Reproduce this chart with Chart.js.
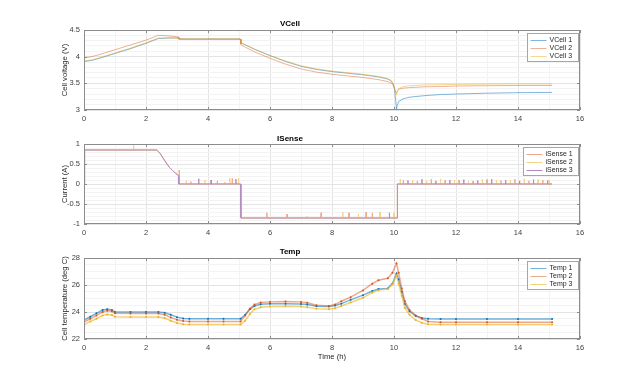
<!DOCTYPE html>
<html>
<head>
<meta charset="utf-8">
<script src="https://cdn.jsdelivr.net/npm/chart.js@4.4.0/dist/chart.umd.min.js"></script>
<style>
    html, body { margin: 0; padding: 0; background: #fff; }
    #wrap { position: relative; width: 640px; height: 381px; }
    #wrap canvas { position: absolute; left: 0; }
</style>
</head>
<body>
<div id="wrap">
    <canvas id="vcellChart" width="640" height="125" style="top:0"></canvas>
    <canvas id="isenseChart" width="640" height="120" style="top:125px"></canvas>
    <canvas id="tempChart" width="640" height="136" style="top:245px"></canvas>
</div>
<script>
// ---- VCell (V) ----
var vTime = [0, 0.25, 0.5, 1.0, 1.5, 2.0, 2.35, 2.4, 2.7, 3.04, 3.06, 4.0, 5.04, 5.06, 5.1, 5.5, 6.0, 6.5, 7.0, 7.5,
    8.0, 8.5, 9.0, 9.5, 9.8, 9.9, 9.97, 10.02, 10.06, 10.08, 10.1, 10.15, 10.3, 10.5, 11.0, 11.5, 12, 13, 14, 15.1];
var vCell1 = [3.91, 3.93, 3.97, 4.06, 4.15, 4.25, 4.33, 4.34, 4.35, 4.35, 4.33, 4.33, 4.33, 4.27, 4.25, 4.14, 4.02, 3.91, 3.82, 3.76,
    3.72, 3.69, 3.66, 3.62, 3.58, 3.55, 3.49, 3.38, 3.15, 3.0, 3.08, 3.16, 3.21, 3.24, 3.27, 3.29, 3.3, 3.315, 3.325, 3.33];
var vCell2 = [3.98, 4.0, 4.04, 4.13, 4.22, 4.31, 4.39, 4.4, 4.39, 4.37, 4.33, 4.33, 4.33, 4.23, 4.21, 4.09, 3.97, 3.86, 3.77, 3.71,
    3.67, 3.64, 3.61, 3.57, 3.53, 3.51, 3.47, 3.4, 3.33, 3.32, 3.35, 3.39, 3.41, 3.42, 3.435, 3.44, 3.45, 3.455, 3.46, 3.46];
var vCell3 = [3.92, 3.94, 3.98, 4.07, 4.16, 4.26, 4.34, 4.35, 4.35, 4.35, 4.33, 4.33, 4.33, 4.27, 4.25, 4.14, 4.02, 3.92, 3.83, 3.77,
    3.73, 3.7, 3.67, 3.63, 3.59, 3.56, 3.5, 3.4, 3.3, 3.28, 3.33, 3.4, 3.44, 3.455, 3.47, 3.475, 3.48, 3.485, 3.49, 3.49];

// ---- ISense (A): shared base profile + per-series spikes ----
var iTime = [0, 0.02, 2.35, 2.45, 2.55, 2.65, 2.75, 2.85, 2.95, 3.05, 3.06, 5.05, 5.06, 10.1, 10.11, 15.1];
var iBase = [0, 0.85, 0.85, 0.77, 0.65, 0.53, 0.42, 0.34, 0.27, 0.21, 0, 0, -0.85, -0.85, 0, 0];
var iSpike1Time = [3.07, 3.45, 4.3, 4.78, 5.9, 6.55, 7.65, 8.55, 9.1, 9.3, 10.3, 10.75, 11.2, 11.65, 12.1, 12.55, 13.0, 13.45, 13.9, 14.35, 14.8];
var iSpike1Value = [0.35, 0.06, 0.08, 0.14, -0.72, -0.75, -0.72, -0.72, -0.7, -0.72, 0.1, 0.08, 0.12, 0.09, 0.1, 0.07, 0.11, 0.09, 0.12, 0.08, 0.1];
var iSpike2Time = [1.6, 3.3, 3.9, 4.55, 4.7, 4.98, 7.2, 8.35, 8.85, 9.55, 10.0, 10.2, 10.6, 11.05, 11.5, 11.95, 12.4, 12.85, 13.3, 13.75, 14.2, 14.65, 15.0];
var iSpike2Value = [0.97, 0.08, 0.1, 0.05, 0.15, 0.15, -0.8, -0.7, -0.75, -0.7, -0.72, 0.12, 0.1, 0.09, 0.13, 0.1, 0.08, 0.12, 0.1, 0.09, 0.13, 0.11, 0.1];
var iSpike3Time = [3.7, 4.1, 4.9, 9.85, 10.45, 10.9, 11.35, 11.8, 12.25, 12.7, 13.15, 13.6, 14.05, 14.5, 14.95];
var iSpike3Value = [0.13, 0.1, 0.12, -0.72, 0.09, 0.12, 0.08, 0.1, 0.11, 0.09, 0.12, 0.1, 0.08, 0.11, 0.09];

// ---- Temp (deg C) ----
var tTime = [0, 0.2, 0.4, 0.6, 0.75, 0.9, 1.0, 1.5, 2.0, 2.4, 2.6, 2.8, 3.0, 3.2, 3.4, 4.0, 4.5, 5.05, 5.2, 5.35,
    5.5, 5.7, 6.0, 6.5, 7.0, 7.2, 7.5, 7.9, 8.1, 8.3, 8.6, 9.0, 9.3, 9.5, 9.8, 9.95, 10.08, 10.15, 10.25, 10.35,
    10.5, 10.7, 10.9, 11.1, 11.5, 12, 13, 14, 15.1];
var temp1 = [23.4, 23.65, 23.9, 24.15, 24.2, 24.15, 24.0, 24.0, 24.0, 24.0, 23.95, 23.8, 23.62, 23.52, 23.5, 23.5, 23.5, 23.5, 23.8, 24.2,
    24.45, 24.58, 24.62, 24.62, 24.6, 24.55, 24.42, 24.4, 24.48, 24.62, 24.9, 25.25, 25.55, 25.7, 25.75, 26.1, 26.85, 26.4, 25.5, 24.6,
    24.05, 23.7, 23.55, 23.5, 23.48, 23.48, 23.48, 23.48, 23.48];
var temp2 = [23.25, 23.5, 23.75, 24.0, 24.1, 24.05, 23.9, 23.88, 23.88, 23.88, 23.8, 23.6, 23.42, 23.33, 23.3, 23.3, 23.3, 23.3, 23.75, 24.25,
    24.55, 24.7, 24.75, 24.78, 24.75, 24.68, 24.5, 24.45, 24.55, 24.8, 25.1, 25.6, 26.1, 26.35, 26.5, 26.9, 27.6, 26.9, 25.75, 24.8,
    24.15, 23.75, 23.5, 23.3, 23.25, 23.25, 23.25, 23.25, 23.25];
var temp3 = [23.05, 23.3, 23.5, 23.75, 23.82, 23.78, 23.65, 23.63, 23.63, 23.63, 23.55, 23.35, 23.18, 23.1, 23.08, 23.08, 23.08, 23.08, 23.35, 23.85,
    24.2, 24.35, 24.4, 24.42, 24.4, 24.35, 24.25, 24.2, 24.28, 24.45, 24.7, 25.05, 25.45, 25.62, 25.7, 26.05, 26.7, 26.1, 25.2, 24.3,
    23.8, 23.4, 23.2, 23.1, 23.08, 23.08, 23.08, 23.08, 23.08];

var FONT = '"Liberation Sans", Arial, sans-serif';

function toPoints(xs, ys) {
    var pts = [];
    for (var i = 0; i < xs.length; i++) {
        pts.push({ x: xs[i], y: ys[i] });
    }
    return pts;
}

// base profile with narrow spikes dropped in on the flat parts
function withSpikes(xs, ys, spikeT, spikeV) {
    var pts = toPoints(xs, ys);
    for (var k = 0; k < spikeT.length; k++) {
        var t = spikeT[k];
        var base = ys[0];
        for (var i = 0; i < xs.length; i++) {
            if (xs[i] <= t) base = ys[i];
        }
        pts.push({ x: t - 0.005, y: base }, { x: t, y: spikeV[k] }, { x: t + 0.005, y: base });
    }
    pts.sort(function (a, b) { return a.x - b.x; });
    return pts;
}

function isMajor(v, step) {
    var r = v / step;
    return Math.abs(r - Math.round(r)) < 1e-6;
}

// box, inward ticks and a legend inside the top right corner
var matlabAxes = {
    id: 'matlabAxes',
    afterDatasetsDraw: function (chart, args, opts) {
        var a = chart.chartArea;
        var ctx = chart.ctx;
        var xs = chart.scales.x, ys = chart.scales.y;
        ctx.save();
        ctx.lineWidth = 1;
        ctx.strokeStyle = '#8c8c8c';
        ctx.beginPath();
        xs.ticks.forEach(function (t) {
            if (!isMajor(t.value, 2)) return;
            var px = Math.round(xs.getPixelForValue(t.value)) + 0.5;
            ctx.moveTo(px, a.bottom); ctx.lineTo(px, a.bottom - 3);
            ctx.moveTo(px, a.top); ctx.lineTo(px, a.top + 3);
        });
        ys.ticks.forEach(function (t) {
            if (!isMajor(t.value, opts.yMajor)) return;
            var py = Math.round(ys.getPixelForValue(t.value)) + 0.5;
            ctx.moveTo(a.left, py); ctx.lineTo(a.left + 3, py);
            ctx.moveTo(a.right, py); ctx.lineTo(a.right - 3, py);
        });
        ctx.stroke();
        ctx.strokeRect(Math.round(a.left) + 0.5, Math.round(a.top) + 0.5,
            Math.round(a.right - a.left) - 1, Math.round(a.bottom - a.top) - 1);

        ctx.font = '7px ' + FONT;
        var w = 0;
        opts.labels.forEach(function (l) { w = Math.max(w, ctx.measureText(l).width); });
        var bw = Math.round(w + 28);
        var bh = 12 + (opts.labels.length - 1) * 8;
        var left = Math.round(a.right - 2 - bw) + 0.5;
        var top = Math.round(a.top + 3) + 0.5;
        ctx.fillStyle = '#ffffff';
        ctx.fillRect(left, top, bw, bh);
        ctx.strokeStyle = '#a6a6a6';
        ctx.strokeRect(left, top, bw, bh);
        ctx.textBaseline = 'middle';
        ctx.textAlign = 'left';
        for (var i = 0; i < opts.labels.length; i++) {
            var yy = Math.round(top + 6 + i * 8) + 0.5;
            ctx.strokeStyle = chart.data.datasets[i].borderColor;
            ctx.beginPath();
            ctx.moveTo(left + 3, yy);
            ctx.lineTo(left + 19, yy);
            ctx.stroke();
            ctx.fillStyle = '#262626';
            ctx.fillText(opts.labels[i], left + 22, yy);
        }
        ctx.restore();
    }
};

function makeChart(id, cfg) {
    var ctx = document.getElementById(id).getContext('2d');
    return new Chart(ctx, {
        type: 'line',
        data: { datasets: cfg.datasets },
        options: {
            responsive: false,
            animation: false,
            events: [],
            layout: { padding: { left: 0, right: 60, top: 0, bottom: 0 } },
            elements: { line: { tension: 0, borderWidth: 1 }, point: { radius: 0 } },
            plugins: {
                legend: { display: false },
                tooltip: { enabled: false },
                title: {
                    display: true,
                    text: cfg.title,
                    color: '#000000',
                    font: { family: FONT, size: 8, weight: 'bold', lineHeight: 1 },
                    padding: cfg.titlePad
                },
                matlabAxes: { yMajor: cfg.yMajor, labels: cfg.labels }
            },
            scales: {
                x: {
                    type: 'linear',
                    min: 0,
                    max: 16,
                    afterFit: function (scale) { scale.height = cfg.xHeight; },
                    grid: {
                        drawTicks: false,
                        color: function (c) { return c.tick && isMajor(c.tick.value, 2) ? '#e3e3e3' : '#f3f3f3'; }
                    },
                    border: { display: false },
                    ticks: {
                        stepSize: 1,
                        autoSkip: false,
                        maxRotation: 0,
                        padding: 4,
                        color: '#404040',
                        font: { family: FONT, size: 7.5 },
                        callback: function (v) { return isMajor(v, 2) ? String(v) : ''; }
                    },
                    title: {
                        display: !!cfg.xTitle,
                        text: cfg.xTitle || '',
                        color: '#262626',
                        font: { family: FONT, size: 7.7, lineHeight: 1 },
                        padding: { top: 0, bottom: 20 }
                    }
                },
                y: {
                    min: cfg.yMin,
                    max: cfg.yMax,
                    afterFit: function (scale) { scale.width = 84; },
                    grid: {
                        drawTicks: false,
                        color: function (c) { return c.tick && isMajor(c.tick.value, cfg.yMajor) ? '#e3e3e3' : '#f3f3f3'; }
                    },
                    border: { display: false },
                    ticks: {
                        stepSize: cfg.yMinor,
                        autoSkip: false,
                        padding: 4,
                        color: '#404040',
                        font: { family: FONT, size: 7.5 },
                        callback: function (v) { return isMajor(v, cfg.yMajor) ? String(Math.round(v * 100) / 100) : ''; }
                    },
                    title: {
                        display: true,
                        text: cfg.yTitle,
                        color: '#262626',
                        font: { family: FONT, size: 7.7, lineHeight: 1 },
                        padding: { top: 61, bottom: 0 }
                    }
                }
            }
        },
        plugins: [matlabAxes]
    });
}

document.addEventListener('DOMContentLoaded', function () {
    makeChart('vcellChart', {
        title: 'VCell',
        titlePad: { top: 20, bottom: 2 },
        xHeight: 15,
        yMin: 3, yMax: 4.5, yMajor: 0.5, yMinor: 0.1,
        yTitle: 'Cell voltage (V)',
        labels: ['VCell 1', 'VCell 2', 'VCell 3'],
        datasets: [
            { data: toPoints(vTime, vCell1), borderColor: 'rgba(0,114,189,0.5)', order: 3 },
            { data: toPoints(vTime, vCell2), borderColor: 'rgba(217,83,25,0.45)', order: 2 },
            { data: toPoints(vTime, vCell3), borderColor: 'rgba(237,177,32,0.5)', order: 1 }
        ]
    });

    makeChart('isenseChart', {
        title: 'ISense',
        titlePad: { top: 10, bottom: 1 },
        xHeight: 21,
        yMin: -1, yMax: 1, yMajor: 0.5, yMinor: 0.1,
        yTitle: 'Current (A)',
        labels: ['iSense 1', 'iSense 2', 'iSense 3'],
        datasets: [
            { data: withSpikes(iTime, iBase, iSpike1Time, iSpike1Value), borderColor: '#eea98c', order: 3 },
            { data: withSpikes(iTime, iBase, iSpike2Time, iSpike2Value), borderColor: '#f5d387', order: 2 },
            { data: withSpikes(iTime, iBase, iSpike3Time, iSpike3Value), borderColor: '#b48cc4', order: 1 }
        ]
    });

    makeChart('tempChart', {
        title: 'Temp',
        titlePad: { top: 3, bottom: 2 },
        xHeight: 42,
        xTitle: 'Time (h)',
        yMin: 22, yMax: 28, yMajor: 2, yMinor: 0.5,
        yTitle: 'Cell temperature (deg C)',
        labels: ['Temp 1', 'Temp 2', 'Temp 3'],
        datasets: [
            { data: toPoints(tTime, temp1), borderColor: 'rgba(0,114,189,0.55)', borderWidth: 1.5,
              pointRadius: 1, pointBackgroundColor: '#0072BD', pointBorderWidth: 0, order: 3 },
            { data: toPoints(tTime, temp2), borderColor: 'rgba(217,83,25,0.5)', borderWidth: 1.5,
              pointRadius: 1, pointBackgroundColor: '#D95319', pointBorderWidth: 0, order: 2 },
            { data: toPoints(tTime, temp3), borderColor: 'rgba(237,177,32,0.6)', borderWidth: 1.5,
              pointRadius: 1, pointBackgroundColor: '#EDB120', pointBorderWidth: 0, order: 1 }
        ]
    });
});
</script>
</body>
</html>
